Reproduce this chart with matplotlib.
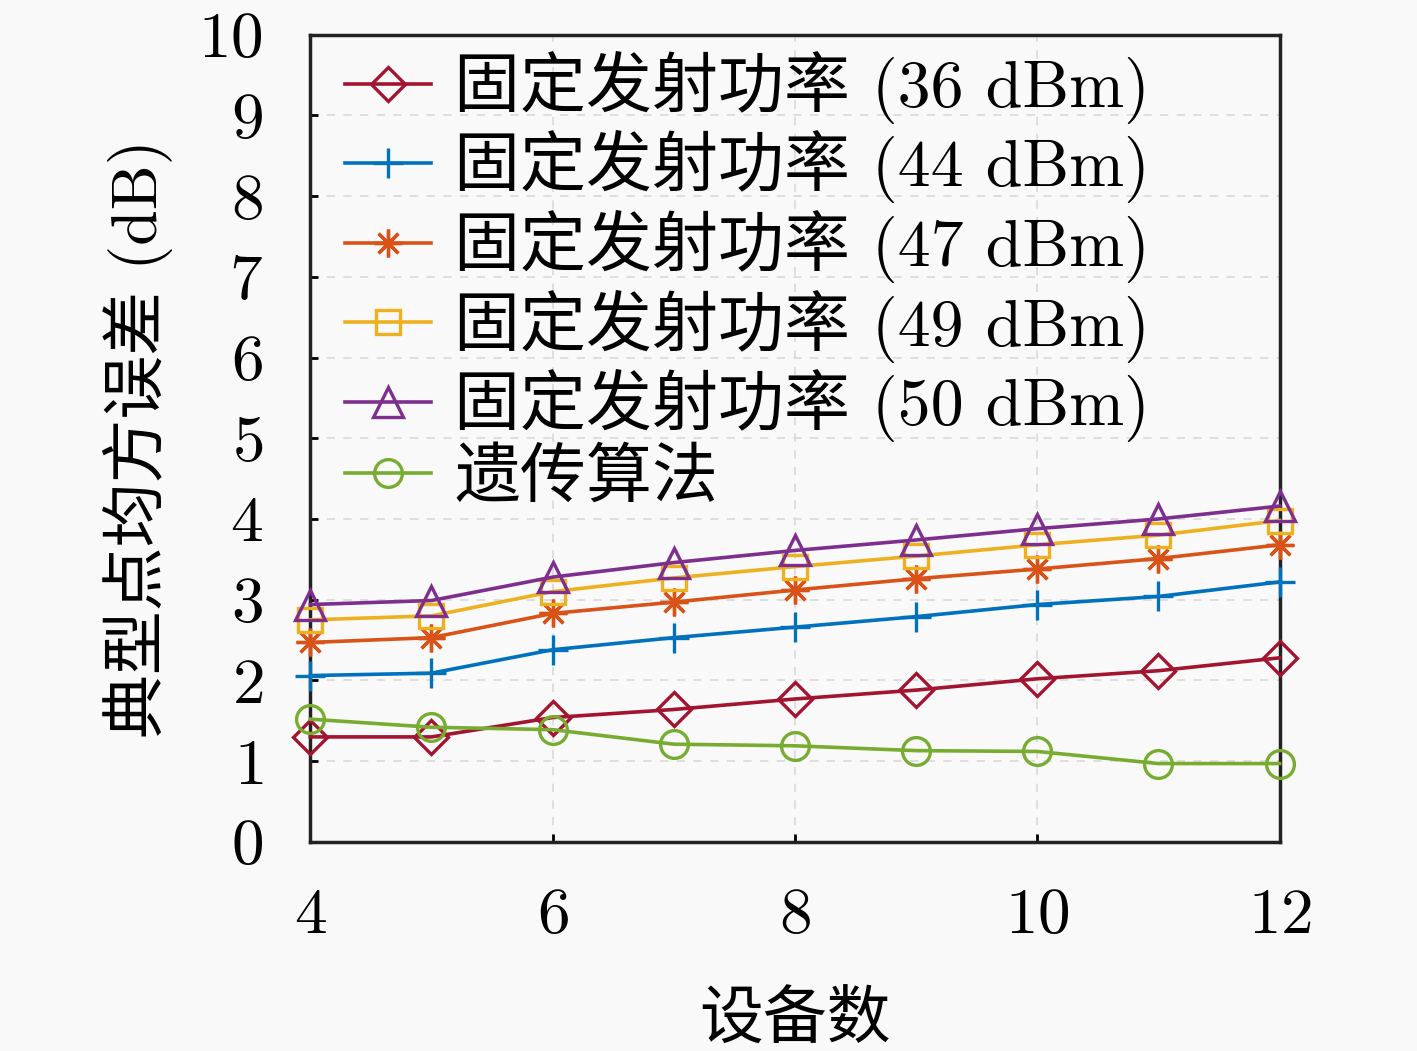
import matplotlib
matplotlib.use("Agg")
import matplotlib.pyplot as plt

plt.rcParams['font.family'] = ['cmr10', 'Noto Sans CJK SC', 'DejaVu Sans']
plt.rcParams['axes.formatter.use_mathtext'] = True

devices = [4, 5, 6, 7, 8, 9, 10, 11, 12]

p36 = [1.30, 1.30, 1.54, 1.64, 1.77, 1.88, 2.02, 2.12, 2.28]
p44 = [2.06, 2.09, 2.38, 2.53, 2.66, 2.79, 2.94, 3.04, 3.22]
p47 = [2.47, 2.53, 2.83, 2.97, 3.12, 3.26, 3.38, 3.51, 3.68]
p49 = [2.75, 2.80, 3.10, 3.27, 3.41, 3.54, 3.68, 3.80, 3.98]
p50 = [2.94, 2.99, 3.28, 3.46, 3.61, 3.74, 3.88, 4.00, 4.16]
ga = [1.52, 1.42, 1.39, 1.21, 1.19, 1.13, 1.12, 0.97, 0.97]

labels = ["固定发射功率 (36 dBm)", "固定发射功率 (44 dBm)", "固定发射功率 (47 dBm)",
          "固定发射功率 (49 dBm)", "固定发射功率 (50 dBm)", "遗传算法"]
series = [p36, p44, p47, p49, p50, ga]
colors = ['#A2142F', '#0072BD', '#D95319', '#EDB120', '#7E2F8E', '#77AC30']
markers = ['D', '+', (8, 2, 0), 's', '^', 'o']
msizes = [17, 22, 20, 17, 21, 20]

fig = plt.figure(figsize=(14.17, 10.51), dpi=100, facecolor='#f9f9f9')
ax = fig.add_axes([0.219, 0.199, 0.684, 0.768])
ax.set_facecolor('#f9f9f9')

for y, lab, c, m, ms in zip(series, labels, colors, markers, msizes):
    ax.plot(devices, y, color=c, lw=2.6, marker=m, markersize=ms,
            markerfacecolor='none', markeredgecolor=c, markeredgewidth=2.4,
            label=lab, clip_on=False, zorder=3)

ax.set_xlim(4, 12)
ax.set_ylim(0, 10)
ax.set_xticks([4, 6, 8, 10, 12])
ax.set_yticks(range(0, 11))
ax.grid(True, ls=(0, (5, 5)), color='#d9d9d9', lw=1.2)
ax.tick_params(direction='in', length=6, width=2, labelsize=47,
               top=False, right=False)
ax.tick_params(axis='x', pad=33)
ax.tick_params(axis='y', pad=34)
for s in ax.spines.values():
    s.set_linewidth(2.5)
    s.set_color('#222222')

ax.set_xlabel("设备数", fontsize=46, labelpad=34)
ax.set_ylabel("典型点均方误差 (dB)", fontsize=46, labelpad=18)

leg = ax.legend(loc='upper left', fontsize=47.5, frameon=False, handlelength=1.3,
                handletextpad=0.35, labelspacing=0.1, borderaxespad=0.0,
                bbox_to_anchor=(0.009, 1.013))

fig.savefig("out.png", dpi=100, facecolor=fig.get_facecolor())
